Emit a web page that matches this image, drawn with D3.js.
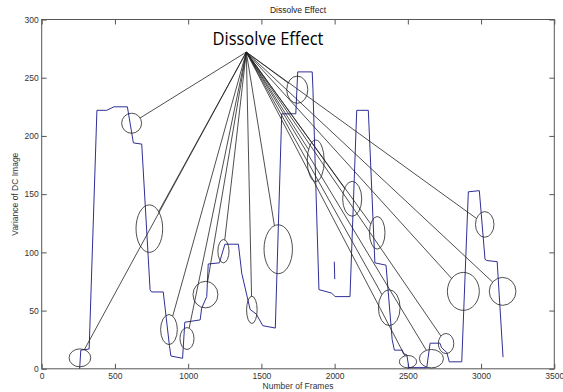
<!DOCTYPE html>
<html>
<head>
<meta charset="utf-8">
<script src="https://cdn.jsdelivr.net/npm/d3@7"></script>
<style>
  body { margin: 0; background: #fff; }
  svg { display: block; font-family: "Liberation Sans", Arial, sans-serif; }
</style>
</head>
<body>
<div id="chart"></div>
<script>
// Variance of DC image per frame (frame, variance)
const frames = [259,267,324,377,444,493,585,626,683,740,750,830,872,882,962,977,1082,1092,1127,1137,1213,1251,1343,1366,1423,1465,1510,1595,1639,1735,1748,1847,1852,1893,1980,2003,2105,2151,2230,2242,2275,2351,2393,2408,2462,2470,2493,2507,2629,2652,2719,2731,2766,2783,2868,2913,2988,3027,3039,3110,3150];
const variance = [0,16,17,222,222,225,225,194,193,68,66,66,20,11,9,40,42,52,62,90,91,107,107,82,51,47,37,35,219,219,255,255,240,68,65,62,62,222,222,188,91,89,25,16,16,13,12,1,1,22,22,18,14,6,6,152,153,94,93,92,10];
// short detached piece of the trace near frame 2000
const strayFrames = [1998, 2001];
const strayVariance = [92, 77];

// dissolve regions marked with ellipses: centre frame, centre variance, half width (frames), half height (variance)
const markFrame = [261,614,735,869,992,1118,1241,1435,1615,1745,1871,2120,2291,2373,2501,2661,2761,2879,3025,3147];
const markVariance = [9.4,210.9,120.4,33.7,26,63.7,101,50.6,102.7,239.7,178.7,146,116.8,52.5,6.1,8.7,21.7,66.5,124,66.5];
const markHalfW = [74,68,91,57,48,85,38,36,97,72,58,65,53,74,59,82,53,109,63,91];
const markHalfH = [7.7,8.6,20.4,12.9,9.4,11.4,10,11.7,21,11.7,17.8,15,14,15.4,5.3,7.9,8.6,16.3,11,12];

// callout anchor and text
const calloutFrame = 1397;
const calloutVariance = 272;
const calloutText = "Dissolve Effect";

const xTicks = [0,500,1000,1500,2000,2500,3000,3500];
const yTicks = [0,50,100,150,200,250,300];

const width = 563, height = 392;
const margin = {top: 19.5, right: 8.7, bottom: 23.2, left: 41.7};

const svg = d3.select("#chart").append("svg")
    .attr("width", width)
    .attr("height", height);

const x = d3.scaleLinear().domain([0, 3500]).range([margin.left, width - margin.right]);
const y = d3.scaleLinear().domain([0, 300]).range([height - margin.bottom, margin.top]);

const axisColor = "#555";

// axes, MATLAB style: ticks inside, box on all sides
const axisBottomG = svg.append("g")
    .attr("transform", `translate(0,${height - margin.bottom})`)
    .call(d3.axisBottom(x).tickValues(xTicks).tickSize(-5).tickPadding(4).tickFormat(d3.format("d")));
const axisTopG = svg.append("g")
    .attr("transform", `translate(0,${margin.top})`)
    .call(d3.axisTop(x).tickValues(xTicks).tickSize(-5).tickFormat(""));
const axisLeftG = svg.append("g")
    .attr("transform", `translate(${margin.left},0)`)
    .call(d3.axisLeft(y).tickValues(yTicks).tickSize(-5).tickPadding(3).tickFormat(d3.format("d")));
const axisRightG = svg.append("g")
    .attr("transform", `translate(${width - margin.right},0)`)
    .call(d3.axisRight(y).tickValues(yTicks).tickSize(-5).tickFormat(""));

[axisBottomG, axisTopG, axisLeftG, axisRightG].forEach(g => {
    g.select(".domain").remove();
    g.selectAll("line").attr("stroke", axisColor);
    g.selectAll("text").attr("fill", "#333").style("font-size", "8.5px");
});

svg.append("rect")
    .attr("x", margin.left)
    .attr("y", margin.top)
    .attr("width", width - margin.left - margin.right)
    .attr("height", height - margin.top - margin.bottom)
    .attr("fill", "none")
    .attr("stroke", axisColor)
    .attr("stroke-width", 1);

// titles
svg.append("text")
    .attr("x", (margin.left + width - margin.right) / 2)
    .attr("y", 12.5)
    .attr("text-anchor", "middle")
    .style("font-size", "8.5px")
    .attr("fill", "#222")
    .text("Dissolve Effect");

svg.append("text")
    .attr("x", (margin.left + width - margin.right) / 2)
    .attr("y", 389)
    .attr("text-anchor", "middle")
    .style("font-size", "8.5px")
    .attr("fill", "#333")
    .text("Number of Frames");

svg.append("text")
    .attr("transform", `translate(15,${(margin.top + height - margin.bottom) / 2}) rotate(-90)`)
    .attr("text-anchor", "middle")
    .attr("dy", "0.35em")
    .style("font-size", "8.5px")
    .attr("fill", "#333")
    .text("Variance of DC Image");

// data trace
const line = d3.line().x(d => x(d[0])).y(d => y(d[1]));
const trace = frames.map((f, i) => [f, variance[i]]);
const stray = strayFrames.map((f, i) => [f, strayVariance[i]]);

svg.append("path")
    .datum(trace)
    .attr("d", line)
    .attr("fill", "none")
    .attr("stroke", "#2f2f96")
    .attr("stroke-width", 1);

svg.append("path")
    .datum(stray)
    .attr("d", line)
    .attr("fill", "none")
    .attr("stroke", "#2f2f96")
    .attr("stroke-width", 1);

// ellipses and callout lines
const marks = markFrame.map((f, i) => ({
    cx: x(f),
    cy: y(markVariance[i]),
    rx: x(f + markHalfW[i]) - x(f),
    ry: y(markVariance[i]) - y(markVariance[i] + markHalfH[i])
}));

const fx = x(calloutFrame), fy = y(calloutVariance);

// end each callout line where it meets its ellipse
function edgePoint(d) {
    const dx = d.cx - fx, dy = d.cy - fy;
    const t = 1 - 1 / Math.hypot(dx / d.rx, dy / d.ry);
    return [fx + t * dx, fy + t * dy];
}

svg.append("g").selectAll("line")
    .data(marks)
    .join("line")
    .attr("x1", fx)
    .attr("y1", fy)
    .attr("x2", d => edgePoint(d)[0])
    .attr("y2", d => edgePoint(d)[1])
    .attr("stroke", "#222")
    .attr("stroke-width", 0.8);

svg.append("g").selectAll("ellipse")
    .data(marks)
    .join("ellipse")
    .attr("cx", d => d.cx)
    .attr("cy", d => d.cy)
    .attr("rx", d => d.rx)
    .attr("ry", d => d.ry)
    .attr("fill", "none")
    .attr("stroke", "#222")
    .attr("stroke-width", 0.8);

svg.append("text")
    .attr("x", 212.5)
    .attr("y", 45)
    .attr("textLength", 111)
    .attr("lengthAdjust", "spacingAndGlyphs")
    .style("font-family", "'Open Sans', 'Liberation Sans', sans-serif")
    .style("font-size", "18px")
    .attr("fill", "#000")
    .text(calloutText);
</script>
</body>
</html>
